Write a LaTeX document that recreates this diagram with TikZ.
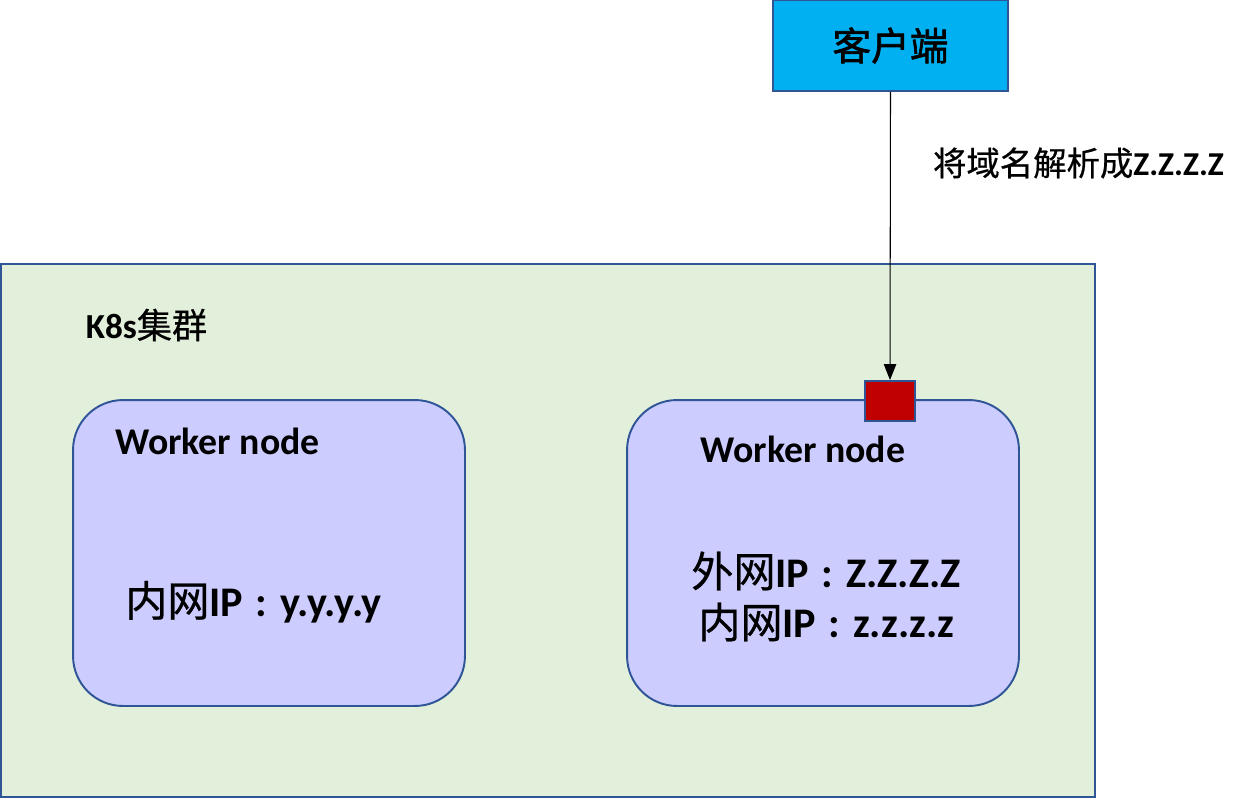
\documentclass[tikz,border=0pt]{standalone}
\usepackage{fontspec}
\setmainfont{Carlito}
\newfontfamily\cjk[FakeBold=0.6]{Noto Sans CJK SC}
\newfontfamily\cjkheavy[FakeBold=1.6]{Noto Sans CJK SC}
\usetikzlibrary{arrows.meta}
\newcommand{\zh}[1]{{\cjk\mdseries #1}}
\newcommand{\colonsep}{\hspace{0.3em}:\hspace{0.3em}}
\definecolor{clientblue}{HTML}{00B0F0}
\definecolor{clustergreen}{HTML}{E2EFDA}
\definecolor{workerpurple}{HTML}{CCCCFF}
\definecolor{portred}{HTML}{C00000}
\definecolor{edgeblue}{HTML}{2F5597}

\begin{document}
\begin{tikzpicture}[x=0.02cm,y=-0.02cm,
  box/.style={draw=edgeblue, line width=1.1pt, inner sep=0pt},
  label/.style={font=\bfseries, inner sep=0pt}]
  \useasboundingbox (0,0) rectangle (1244,798);

  % cluster
  \node[box, fill=clustergreen, minimum width=21.88cm, minimum height=10.66cm]
    (cluster) at (548,530.5) {};
  \node[label, font=\fontsize{20}{24}\bfseries] (clustername) at (146.5,325) {K8s\zh{集群}};

  % worker nodes
  \node[box, fill=workerpurple, rounded corners=1cm,
    minimum width=7.84cm, minimum height=6.12cm] (workerA) at (269,553) {};
  \node[box, fill=workerpurple, rounded corners=1cm,
    minimum width=7.84cm, minimum height=6.12cm] (workerB) at (823,553) {};

  \node[label, font=\fontsize{21.5}{26}\bfseries] at (217.5,441) {Worker node};
  \node[label, font=\fontsize{21.5}{26}\bfseries] at (803,449) {Worker node};

  \node[label, font=\fontsize{24}{28}\bfseries] at (253.5,602) {\zh{内网}IP\colonsep y.y.y.y};
  \node[label, font=\fontsize{24}{28}\bfseries] at (826,571) {\zh{外网}IP\colonsep Z.Z.Z.Z};
  \node[label, font=\fontsize{24}{28}\bfseries] at (826.5,622) {\zh{内网}IP\colonsep z.z.z.z};

  % port on worker
  \node[box, fill=portred, minimum width=1cm, minimum height=0.8cm] (port) at (890,401) {};

  % client
  \node[box, fill=clientblue, minimum width=4.7cm, minimum height=1.82cm]
    (client) at (890.5,45.5) {\fontsize{22}{26}\cjkheavy 客户端};

  \draw[-{Triangle[length=9pt,width=7pt]}, line width=0.6pt] (client.south) -- (port.north);
  \node[label, font=\fontsize{19}{23}\bfseries] at (1078.5,163) {\zh{将域名解析成}Z.Z.Z.Z};

\end{tikzpicture}
\end{document}
